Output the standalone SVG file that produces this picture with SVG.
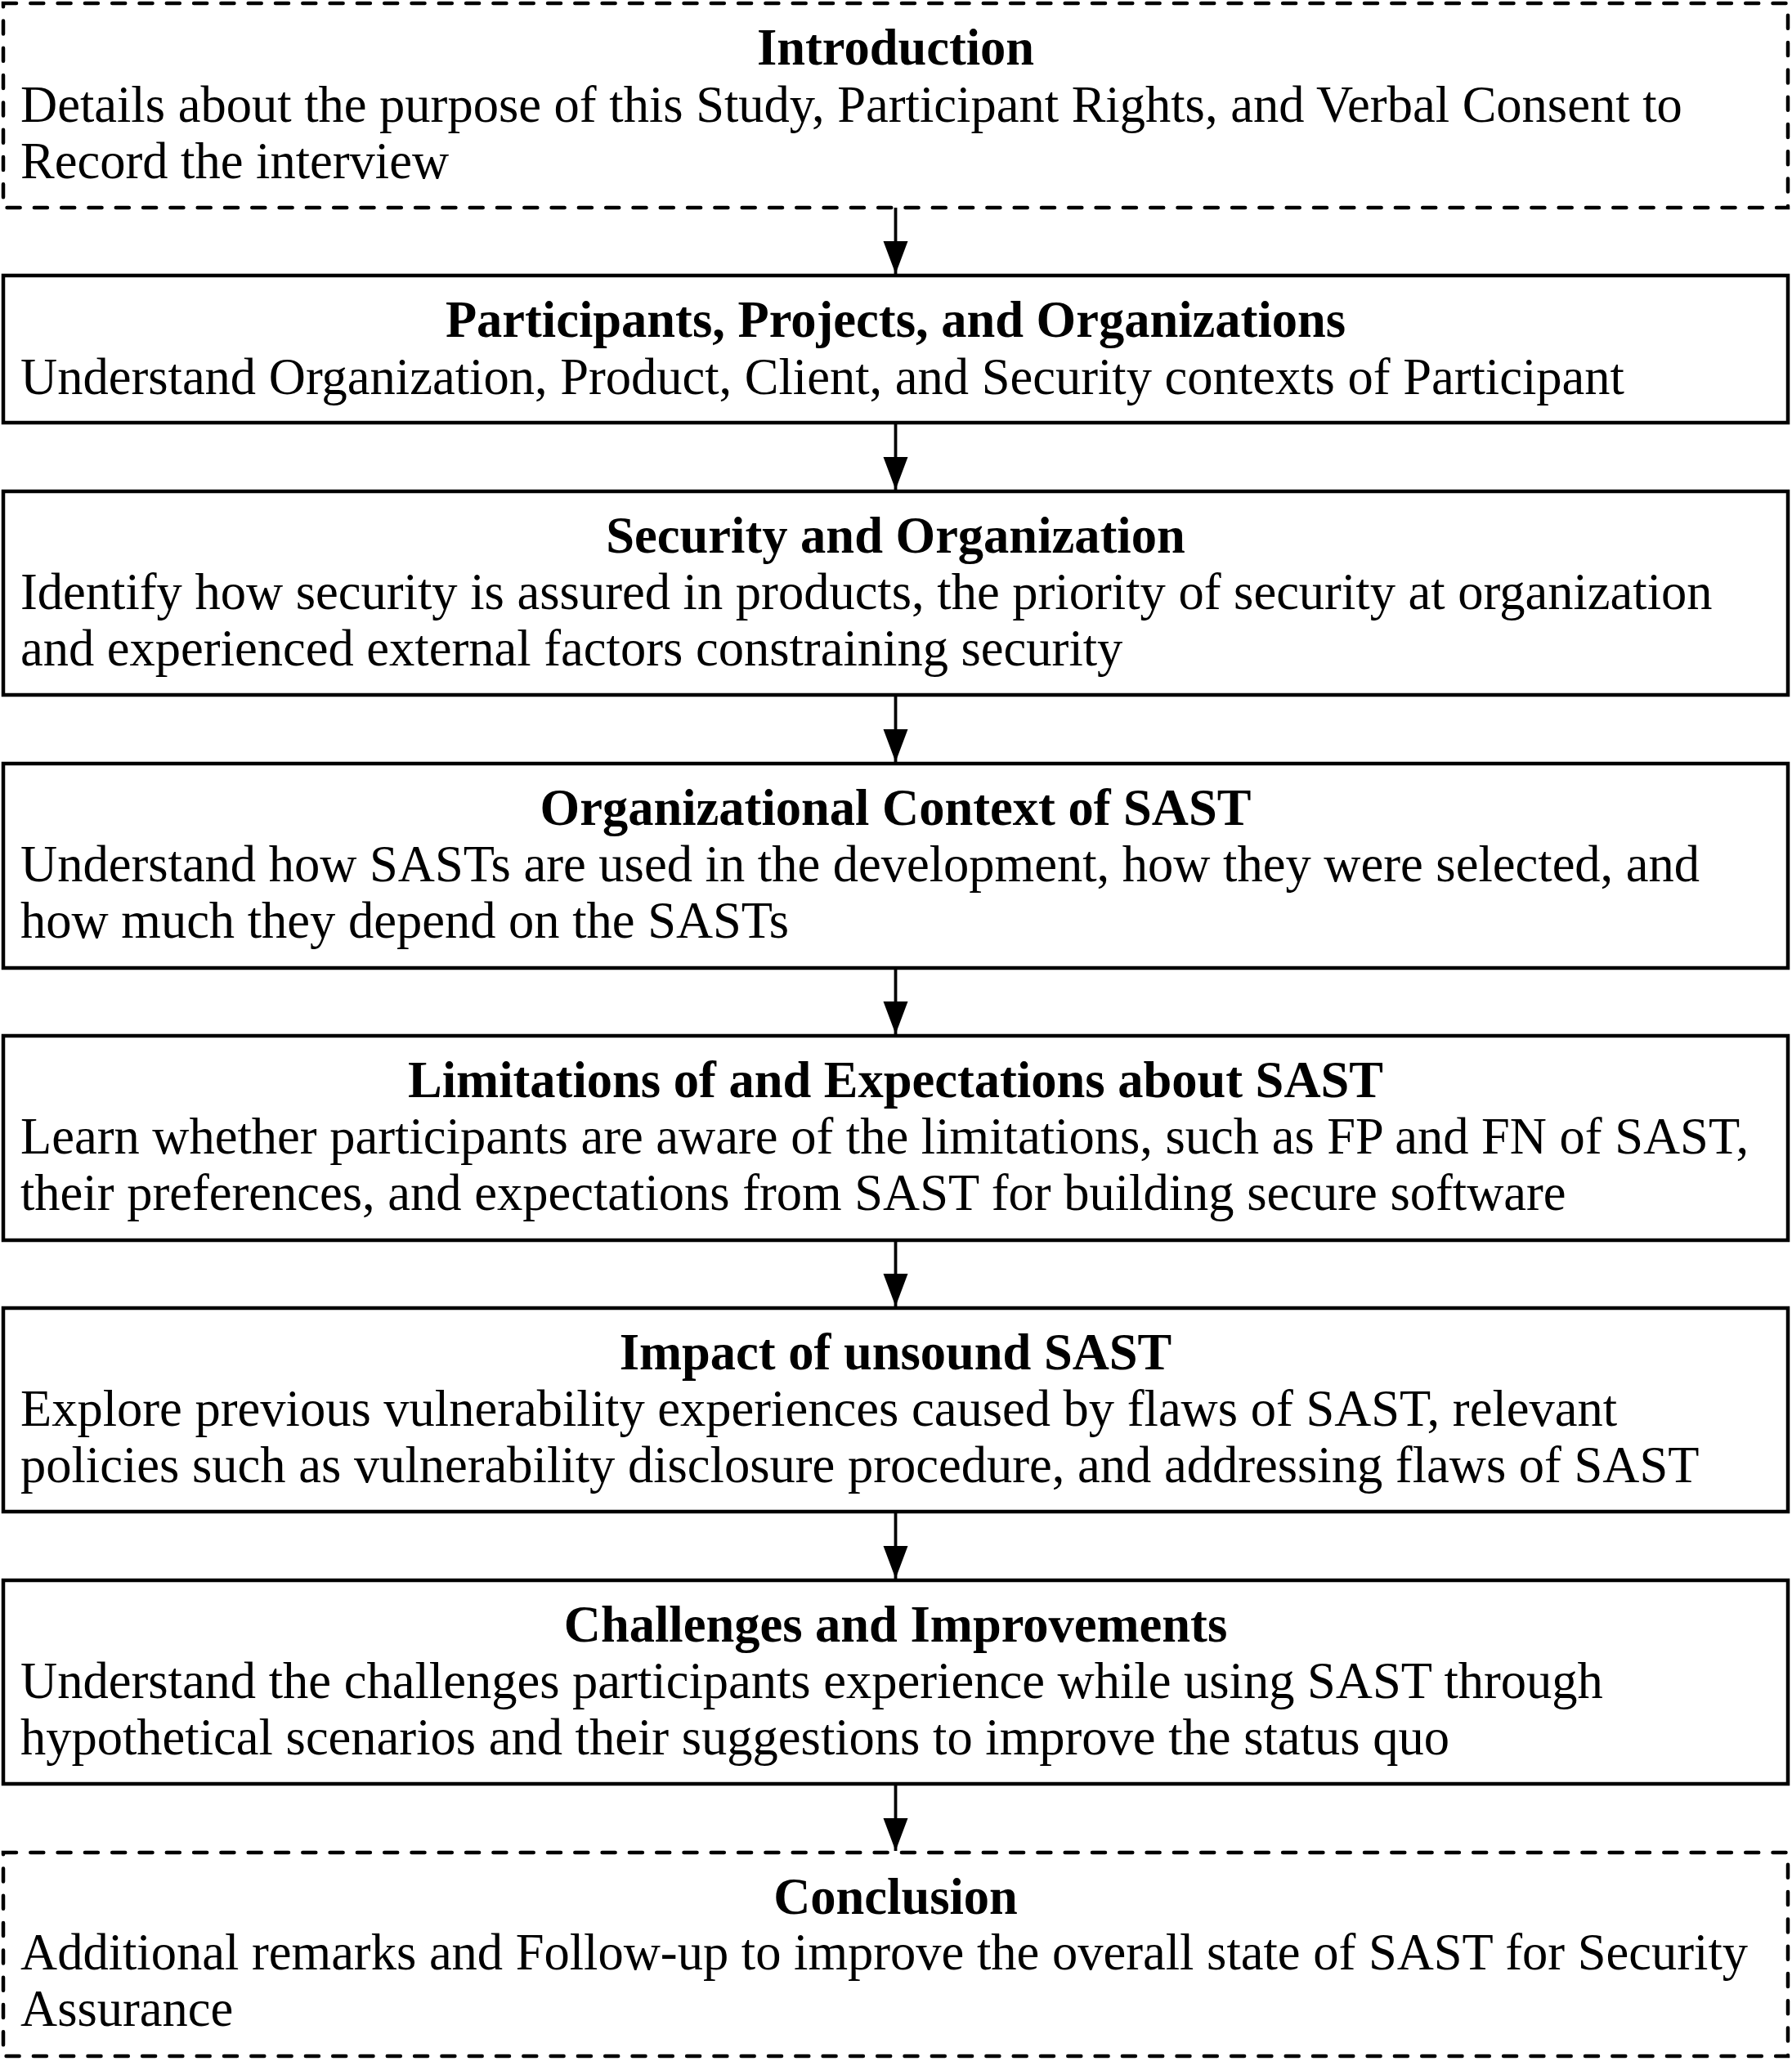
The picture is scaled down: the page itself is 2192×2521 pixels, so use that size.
<svg xmlns="http://www.w3.org/2000/svg" width="2192" height="2521" viewBox="0 0 2192 2521">
  <style>
    .box { fill: #ffffff; stroke: #000000; stroke-width: 4.5; }
    .dashed { stroke-dasharray: 16 17.3; stroke-linecap: round; }
    .title { font-family: "Liberation Serif", "Times New Roman", serif; font-size: 62.5px; font-weight: bold; text-anchor: middle; fill: #000000; }
    .body { font-family: "Liberation Serif", "Times New Roman", serif; font-size: 62.5px; fill: #000000; }
    .link { stroke: #000000; stroke-width: 3.8; fill: none; }
  </style>
  <defs>
    <marker id="arrowhead" markerUnits="userSpaceOnUse" markerWidth="42" markerHeight="32" refX="41" refY="16" orient="auto">
      <path d="M1,1 L41,16 L1,31 Z" fill="#000000"/>
    </marker>
  </defs>
  <rect width="2192" height="2521" fill="#ffffff"/>

  <!-- connectors -->
  <g id="connectors">
    <line class="link" x1="1095.5" y1="254" x2="1095.5" y2="335" marker-end="url(#arrowhead)"/>
    <line class="link" x1="1095.5" y1="517" x2="1095.5" y2="599" marker-end="url(#arrowhead)"/>
    <line class="link" x1="1095.5" y1="850" x2="1095.5" y2="932" marker-end="url(#arrowhead)"/>
    <line class="link" x1="1095.5" y1="1184" x2="1095.5" y2="1265" marker-end="url(#arrowhead)"/>
    <line class="link" x1="1095.5" y1="1517" x2="1095.5" y2="1598" marker-end="url(#arrowhead)"/>
    <line class="link" x1="1095.5" y1="1849" x2="1095.5" y2="1931" marker-end="url(#arrowhead)"/>
    <line class="link" x1="1095.5" y1="2182" x2="1095.5" y2="2264" marker-end="url(#arrowhead)"/>
  </g>

  <!-- interview stages -->
  <g id="introduction">
    <rect class="box dashed" x="4" y="4" width="2183" height="250"/>
    <text class="title" x="1095.5" y="79">Introduction</text>
    <text class="body" x="25" y="149">Details about the purpose of this Study, Participant Rights, and Verbal Consent to</text>
    <text class="body" x="25" y="218">Record the interview</text>
  </g>

  <g id="participants">
    <rect class="box" x="4" y="337" width="2183" height="180"/>
    <text class="title" x="1095.5" y="412">Participants, Projects, and Organizations</text>
    <text class="body" x="25" y="482">Understand Organization, Product, Client, and Security contexts of Participant</text>
  </g>

  <g id="security-organization">
    <rect class="box" x="4" y="601" width="2183" height="249"/>
    <text class="title" x="1095.5" y="676">Security and Organization</text>
    <text class="body" x="25" y="745">Identify how security is assured in products, the priority of security at organization</text>
    <text class="body" x="25" y="814">and experienced external factors constraining security</text>
  </g>

  <g id="organizational-context">
    <rect class="box" x="4" y="934" width="2183" height="250"/>
    <text class="title" x="1095.5" y="1009">Organizational Context of SAST</text>
    <text class="body" x="25" y="1078">Understand how SASTs are used in the development, how they were selected, and</text>
    <text class="body" x="25" y="1147">how much they depend on the SASTs</text>
  </g>

  <g id="limitations-expectations">
    <rect class="box" x="4" y="1267" width="2183" height="250"/>
    <text class="title" x="1095.5" y="1342">Limitations of and Expectations about SAST</text>
    <text class="body" x="25" y="1411">Learn whether participants are aware of the limitations, such as FP and FN of SAST,</text>
    <text class="body" x="25" y="1480">their preferences, and expectations from SAST for building secure software</text>
  </g>

  <g id="impact-unsound">
    <rect class="box" x="4" y="1600" width="2183" height="249"/>
    <text class="title" x="1095.5" y="1675">Impact of unsound SAST</text>
    <text class="body" x="25" y="1744">Explore previous vulnerability experiences caused by flaws of SAST, relevant</text>
    <text class="body" x="25" y="1813">policies such as vulnerability disclosure procedure, and addressing flaws of SAST</text>
  </g>

  <g id="challenges-improvements">
    <rect class="box" x="4" y="1933" width="2183" height="249"/>
    <text class="title" x="1095.5" y="2008">Challenges and Improvements</text>
    <text class="body" x="25" y="2077">Understand the challenges participants experience while using SAST through</text>
    <text class="body" x="25" y="2146">hypothetical scenarios and their suggestions to improve the status quo</text>
  </g>

  <g id="conclusion">
    <rect class="box dashed" x="4" y="2266" width="2183" height="249"/>
    <text class="title" x="1095.5" y="2341">Conclusion</text>
    <text class="body" x="25" y="2409">Additional remarks and Follow-up to improve the overall state of SAST for Security</text>
    <text class="body" x="25" y="2478">Assurance</text>
  </g>
</svg>
